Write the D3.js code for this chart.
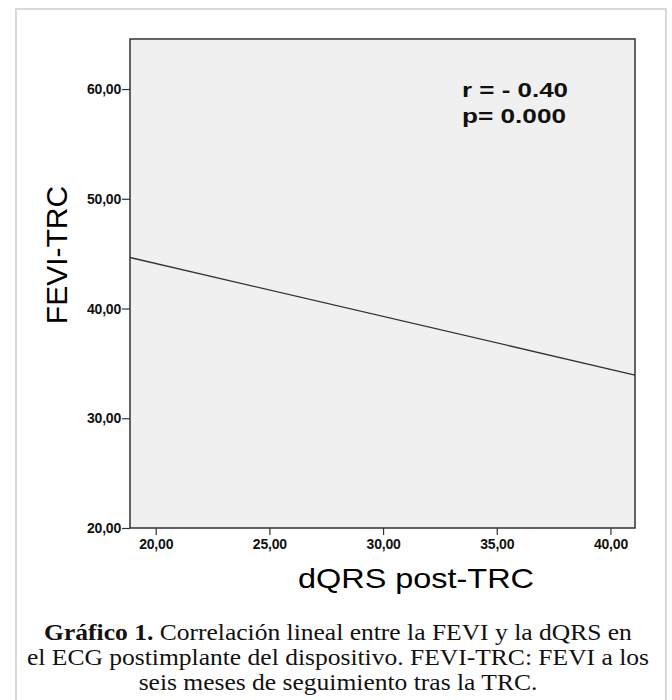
<!DOCTYPE html>
<html>
<head>
<meta charset="utf-8">
<script src="https://cdn.jsdelivr.net/npm/d3@7"></script>
<style>
  body { margin: 0; background: #fff; }
  svg { display: block; }
</style>
</head>
<body>
<div id="chart"></div>
<script>
// values
var xDomain = [18.87, 41.08];
var yDomain = [20, 64.56];
var xTicks = [20, 25, 30, 35, 40];
var yTicks = [20, 30, 40, 50, 60];
var fitX = [18.87, 41.08];   // regression line end points
var fitY = [44.65, 33.94];
var statLines = ["r = - 0.40", "p= 0.000"];
var xTitle = "dQRS post-TRC";
var yTitle = "FEVI-TRC";
var captionBold = "Gráfico 1.";
var captionLines = [
  " Correlación lineal entre la FEVI y la dQRS en",
  "el ECG postimplante del dispositivo. FEVI-TRC: FEVI a los",
  "seis meses de seguimiento tras la TRC."
];

var width = 672, height = 700;
var plot = {left: 130, right: 635, top: 39, bottom: 528};

var svg = d3.select("#chart").append("svg")
    .attr("width", width)
    .attr("height", height);

// outer frame of the figure
svg.append("rect")
    .attr("x", 16).attr("y", 9)
    .attr("width", 650).attr("height", 720)
    .attr("fill", "none")
    .attr("stroke", "#d9d9d9")
    .attr("stroke-width", 2);

var x = d3.scaleLinear().domain(xDomain).range([plot.left, plot.right]);
var y = d3.scaleLinear().domain(yDomain).range([plot.bottom, plot.top]);

var loc = d3.formatLocale({decimal: ",", thousands: ".", grouping: [3], currency: ["", ""]});
var fmt = loc.format(".2f");

svg.append("rect")
    .attr("x", plot.left).attr("y", plot.top)
    .attr("width", plot.right - plot.left)
    .attr("height", plot.bottom - plot.top)
    .attr("fill", "#f0f0f0")
    .attr("stroke", "#333")
    .attr("stroke-width", 1.5);

var xAxis = svg.append("g")
    .attr("transform", "translate(0," + plot.bottom + ")")
    .call(d3.axisBottom(x).tickValues(xTicks).tickFormat(fmt).tickSize(7).tickPadding(4));

var yAxis = svg.append("g")
    .attr("transform", "translate(" + plot.left + ",0)")
    .call(d3.axisLeft(y).tickValues(yTicks).tickFormat(fmt).tickSize(8).tickPadding(1));

[xAxis, yAxis].forEach(function(g) {
  g.select(".domain").remove();
  g.selectAll(".tick line").attr("stroke", "#333").attr("stroke-width", 1.2);
  g.selectAll(".tick text")
      .attr("fill", "#111")
      .attr("font-family", "Liberation Sans, Arial, sans-serif")
      .attr("font-weight", "bold")
      .attr("font-size", "14px")
      .attr("letter-spacing", "-0.2px");
});

// fit line
svg.append("path")
    .datum(d3.zip(fitX, fitY))
    .attr("d", d3.line().x(function(d) { return x(d[0]); }).y(function(d) { return y(d[1]); }))
    .attr("fill", "none")
    .attr("stroke", "#333")
    .attr("stroke-width", 1.3);

// statistics
var statWidths = [106, 104];
svg.selectAll(".stat")
    .data(statLines)
    .enter().append("text")
    .attr("class", "stat")
    .attr("x", 462)
    .attr("y", function(d, i) { return 97 + i * 26; })
    .attr("font-family", "Liberation Sans, Arial, sans-serif")
    .attr("font-weight", "bold")
    .attr("font-size", "21px")
    .attr("fill", "#111")
    .attr("xml:space", "preserve")
    .attr("textLength", function(d, i) { return statWidths[i]; })
    .attr("lengthAdjust", "spacingAndGlyphs")
    .text(function(d) { return d; });

// axis titles
svg.append("text")
    .text(xTitle)
    .attr("x", 416)
    .attr("y", 588)
    .attr("text-anchor", "middle")
    .attr("font-family", "Liberation Sans, Arial, sans-serif")
    .attr("font-size", "28px")
    .attr("textLength", 236)
    .attr("lengthAdjust", "spacingAndGlyphs")
    .attr("fill", "#000");

svg.append("text")
    .text(yTitle)
    .attr("transform", "translate(67,255) rotate(-90)")
    .attr("text-anchor", "middle")
    .attr("font-family", "Liberation Sans, Arial, sans-serif")
    .attr("font-size", "30px")
    .attr("fill", "#000");

// caption, stretched sideways a little like the original
var capG = svg.append("g");
var cap = capG.append("text")
    .attr("text-anchor", "middle")
    .attr("font-family", "Liberation Serif, Times New Roman, serif")
    .attr("font-size", "23.5px")
    .attr("fill", "#111");

var l1 = cap.append("tspan").attr("x", 0).attr("y", 640);
l1.append("tspan").attr("font-weight", "bold").text(captionBold);
l1.append("tspan").text(captionLines[0]);
var l2 = cap.append("tspan").attr("x", 0).attr("y", 665).text(captionLines[1]);
cap.append("tspan").attr("x", 0).attr("y", 690).text(captionLines[2]);

var sx = 622 / l2.node().getComputedTextLength();
capG.attr("transform", "translate(338,0) scale(" + sx.toFixed(3) + ",1)");
</script>
</body>
</html>
